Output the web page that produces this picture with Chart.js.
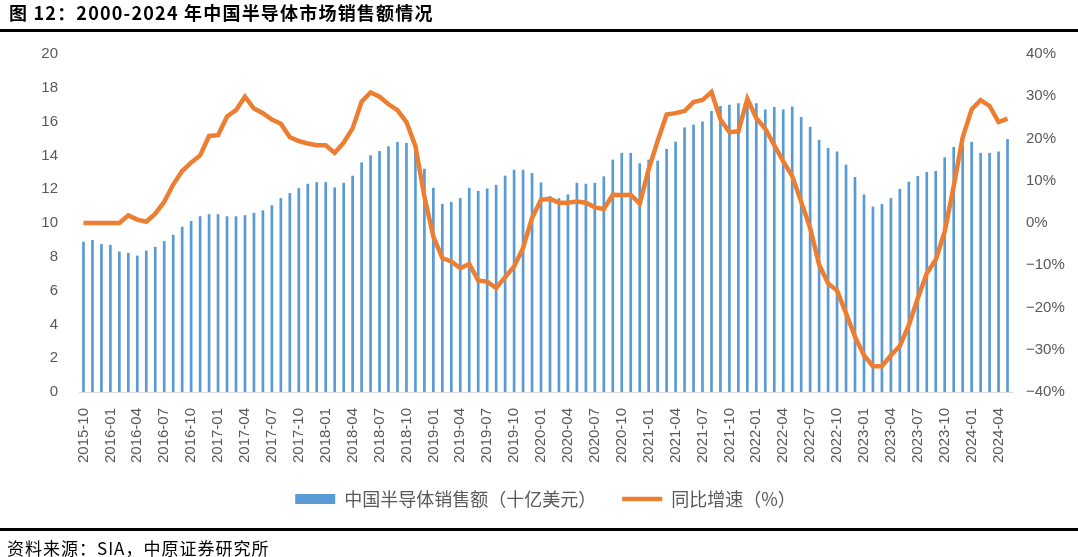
<!DOCTYPE html>
<html>
<head>
<meta charset="utf-8">
<script src="https://cdn.jsdelivr.net/npm/chart.js@4.4.0/dist/chart.umd.min.js"></script>
<style>
  html, body { margin: 0; padding: 0; background: #fff; }
  #wrap { position: relative; width: 1078px; height: 557px; overflow: hidden; }
  #chart { position: absolute; left: 0; top: 0; }
  #title { position: absolute; left: 9px; top: -1px; font: bold 18px "Noto Sans CJK SC", sans-serif; letter-spacing: 1.2px; color: #000; white-space: nowrap; }
  .rule { position: absolute; left: 0; width: 1078px; height: 3px; background: #000; }
  #source { position: absolute; left: 7px; top: 535px; font: 17px "Noto Sans CJK SC", sans-serif; letter-spacing: 1px; color: #000; white-space: nowrap; }
</style>
</head>
<body>
<div id="wrap">
  <canvas id="chart" width="1078" height="557"></canvas>
  <div id="title">图 12：2000-2024 年中国半导体市场销售额情况</div>
  <div class="rule" style="top:29px"></div>
  <div class="rule" style="top:528px"></div>
  <div id="source">资料来源：SIA，中原证券研究所</div>
</div>
<script>
// Series names
const salesLabel = '中国半导体销售额（十亿美元）';
const growthLabel = '同比增速（%）';

// Monthly sales, 2015-10 .. 2024-05 (billion USD)
const salesValues = [
    8.89, 8.99, 8.75, 8.71, 8.31, 8.23, 8.07, 8.37, 8.59, 8.93, 9.30, 9.78,
    10.12, 10.40, 10.52, 10.52, 10.40, 10.40, 10.46, 10.60, 10.75, 11.05, 11.47, 11.77,
    12.06, 12.32, 12.42, 12.42, 12.10, 12.38, 12.80, 13.59, 14.01, 14.26, 14.54, 14.80,
    14.74, 14.70, 13.21, 12.08, 11.13, 11.25, 11.47, 12.08, 11.90, 12.04, 12.26, 12.80,
    13.15, 13.15, 12.96, 12.40, 11.60, 11.47, 11.69, 12.38, 12.32, 12.38, 12.76, 13.75,
    14.15, 14.15, 13.53, 13.75, 13.69, 14.38, 14.82, 15.65, 15.81, 16.00, 16.62, 16.92,
    17.00, 17.08, 17.10, 17.08, 16.71, 16.87, 16.71, 16.90, 16.27, 15.69, 14.92, 14.44,
    14.23, 13.45, 12.72, 11.69, 10.97, 11.13, 11.47, 12.02, 12.44, 12.78, 13.02, 13.08,
    13.89, 14.50, 14.60, 14.80, 14.15, 14.15, 14.23, 14.96
];

// Year-on-year growth (%)
const growthValues = [
    0, 0, 0, 0, 0, 1.8, 0.8, 0.3, 2.2, 5.0, 9.1, 12.3,
    14.3, 16.0, 20.6, 20.8, 25.2, 26.7, 29.9, 27.1, 26.0, 24.5, 23.5, 20.3,
    19.4, 18.8, 18.4, 18.4, 16.6, 19.0, 22.4, 28.7, 30.9, 29.9, 28.1, 26.7,
    23.9, 18.2, 6.3, -3.2, -8.3, -9.1, -10.7, -9.7, -13.6, -13.9, -15.4, -12.8,
    -10.3, -5.9, 1.2, 5.5, 5.7, 4.8, 4.8, 5.1, 4.8, 3.7, 3.3, 6.7,
    6.6, 6.7, 4.6, 12.7, 19.4, 25.7, 26.0, 26.5, 28.6, 29.1, 31.0, 24.5,
    21.5, 21.7, 29.4, 24.8, 22.3, 18.4, 14.6, 11.1, 5.0, -1.2, -9.9, -14.3,
    -16.0, -21.4, -26.9, -31.3, -33.9, -33.9, -31.3, -29.1, -24.2, -17.8, -11.9, -8.7,
    -2.0, 8.7, 20.2, 26.9, 29.1, 27.7, 23.9, 24.7
];

// Month categories starting 2015-10
const startYear = 2015;
const startMonth = 10;
const months = [];
for (let i = 0; i < salesValues.length; i++) {
    const total = startMonth - 1 + i;
    const y = startYear + Math.floor(total / 12);
    const m = (total % 12) + 1;
    months.push(y + '-' + (m < 10 ? '0' + m : m));
}

const tickColor = '#595959';

const ctx = document.getElementById('chart');
new Chart(ctx, {
    type: 'bar',
    data: {
        labels: months,
        datasets: [
            {
                type: 'bar',
                label: salesLabel,
                data: salesValues,
                backgroundColor: '#5b9bd5',
                borderWidth: 0,
                barPercentage: 0.3,
                categoryPercentage: 1,
                yAxisID: 'y',
                order: 1
            },
            {
                type: 'line',
                label: growthLabel,
                data: growthValues,
                borderColor: '#ed7d31',
                backgroundColor: '#ed7d31',
                borderWidth: 4.5,
                pointRadius: 0,
                tension: 0,
                yAxisID: 'y1',
                order: 0
            }
        ]
    },
    options: {
        responsive: false,
        animation: false,
        layout: { padding: { top: 54, left: 0, right: 0, bottom: 39 } },
        scales: {
            x: {
                offset: true,
                grid: { display: false },
                border: { color: '#d9d9d9', width: 1 },
                ticks: {
                    autoSkip: false,
                    maxRotation: 90,
                    minRotation: 90,
                    padding: 8,
                    color: tickColor,
                    font: { family: 'Liberation Sans, Arial', size: 15 },
                    callback: function (value, index) {
                        return index % 3 === 0 ? this.getLabelForValue(value) : '';
                    }
                },
                afterFit: (scale) => { scale.height = 72; }
            },
            y: {
                position: 'left',
                min: 0,
                max: 20,
                grid: { display: false, drawTicks: false },
                border: { display: false },
                ticks: {
                    stepSize: 2,
                    padding: 21,
                    color: tickColor,
                    font: { family: 'Liberation Sans, Arial', size: 15 }
                },
                afterFit: (scale) => { scale.width = 79; }
            },
            y1: {
                position: 'right',
                min: -40,
                max: 40,
                grid: { display: false, drawTicks: false },
                border: { display: false },
                ticks: {
                    stepSize: 10,
                    padding: 14,
                    color: tickColor,
                    font: { family: 'Liberation Sans, Arial', size: 15 },
                    callback: (v) => (v < 0 ? '\u2212' + Math.abs(v) : v) + '%'
                },
                afterFit: (scale) => { scale.width = 66; }
            }
        },
        plugins: {
            legend: {
                position: 'bottom',
                fullSize: false,
                labels: {
                    usePointStyle: true,
                    pointStyleWidth: 40,
                    boxHeight: 10,
                    padding: 26,
                    color: tickColor,
                    font: { family: 'Noto Sans CJK SC', size: 18 },
                    sort: (a, b) => a.datasetIndex - b.datasetIndex,
                    generateLabels: (chart) => {
                        const items = Chart.defaults.plugins.legend.labels.generateLabels(chart);
                        items.forEach(item => {
                            item.pointStyle = item.datasetIndex === 0 ? 'rect' : 'line';
                        });
                        return items;
                    }
                }
            },
            tooltip: { enabled: false }
        }
    }
});
</script>
</body>
</html>
